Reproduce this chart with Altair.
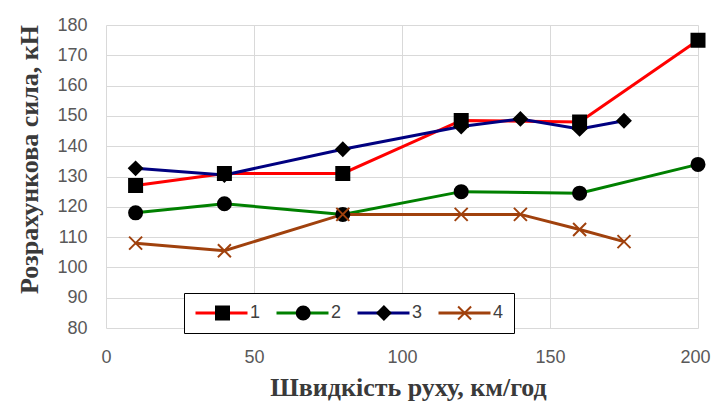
import altair as alt
import pandas as pd

# ---- data ----
s1_x = [10, 40, 80, 120, 160, 200]
s1_y = [127, 131, 131, 148.5, 148, 175]
s2_x = [10, 40, 80, 120, 160, 200]
s2_y = [118, 121, 117.5, 125, 124.5, 134]
s3_x = [10, 40, 80, 120, 140, 160, 175]
s3_y = [132.7, 130.5, 139, 146.5, 149, 145.7, 148.4]
s4_x = [10, 40, 80, 120, 140, 160, 175]
s4_y = [108, 105.5, 117.5, 117.5, 117.5, 112.5, 108.5]

series_names = ["1", "2", "3", "4"]
line_colors = ["#ff0000", "#008000", "#000080", "#a0410d"]
marker_fill = ["black", "black", "black", "transparent"]
marker_stroke = ["black", "black", "black", "#a0410d"]
x_ticks = [0, 50, 100, 150, 200]
y_ticks = [80, 90, 100, 110, 120, 130, 140, 150, 160, 170, 180]

rows = []
for name, xs, ys in zip(series_names, [s1_x, s2_x, s3_x, s4_x], [s1_y, s2_y, s3_y, s4_y]):
    for i, (xv, yv) in enumerate(zip(xs, ys)):
        rows.append({"series": name, "mk": name, "x": xv, "y": yv, "order": i})
df = pd.DataFrame(rows)

xpath = "M-1,-1L1,1M1,-1L-1,1"
shape_range = ["square", "circle", "diamond", xpath]

LX, LY = 78, 268
PAD = 10

x_enc = alt.X("x:Q", scale=alt.Scale(domain=[0, 200], nice=False),
              axis=alt.Axis(values=x_ticks, title="Швидкість руху, км/год",
                            titleX=302, titleY=67, titleBaseline="alphabetic",
                            titleAlign="center", labelPadding=20,
                            labelOffset=alt.condition("datum.value == 200",
                                                      alt.value(-3), alt.value(0))))
y_enc = alt.Y("y:Q", scale=alt.Scale(domain=[80, 180], nice=False, zero=False),
              axis=alt.Axis(values=y_ticks, title="Розрахункова сила, кН",
                            titleX=-69, titleY=134, titleBaseline="alphabetic",
                            titleAlign="center", titleAngle=270, labelPadding=19))

lines = alt.Chart(df).mark_line(strokeWidth=3).encode(
    x=x_enc, y=y_enc,
    order="order:Q",
    color=alt.Color("series:N",
                    scale=alt.Scale(domain=series_names, range=line_colors),
                    legend=alt.Legend(
                        title=None, orient="none", legendX=LX, legendY=LY,
                        direction="horizontal", columns=4,
                        symbolType="stroke", symbolSize=2704, symbolStrokeWidth=3,
                        labelFontSize=18, labelFont="Liberation Sans",
                        labelColor="#404040", labelOffset=1, columnPadding=14,
                        padding=PAD, strokeColor="black", fillColor="white",
                        clipHeight=20)),
)

points = alt.Chart(df).mark_point(size=169, opacity=1, strokeWidth=2).encode(
    x=x_enc, y=y_enc,
    shape=alt.Shape("mk:N",
                    scale=alt.Scale(range=shape_range),
                    legend=alt.Legend(
                        title=None, orient="none", legendX=LX, legendY=LY,
                        direction="horizontal", columns=4,
                        symbolSize=169, symbolOffset=19.5,
                        symbolStrokeWidth=2,
                        labelExpr="''", labelFontSize=18,
                        labelOffset=0, columnPadding=42.7,
                        padding=PAD, clipHeight=20)),
    fill=alt.Fill("mk:N", scale=alt.Scale(range=marker_fill)),
    stroke=alt.Stroke("mk:N", scale=alt.Scale(range=marker_stroke)),
)

chart = alt.layer(lines, points).properties(
    width=592, height=303,
    autosize=alt.AutoSizeParams(type="none"),
    padding={"left": 98, "top": 17, "right": 13, "bottom": 73},
).configure_view(stroke=None).configure_axis(
    grid=True, gridColor="#d9d9d9", gridWidth=1,
    domain=False, ticks=False, labelFlush=False, labelOverlap=False,
    labelFont="Liberation Sans", labelFontSize=18, labelColor="#595959",
    titleFont="Liberation Serif", titleFontSize=26, titleFontWeight="bold",
    titleColor="#3a3a3a",
)

chart.save("out.html", embed_options={"renderer": "svg", "actions": False})
